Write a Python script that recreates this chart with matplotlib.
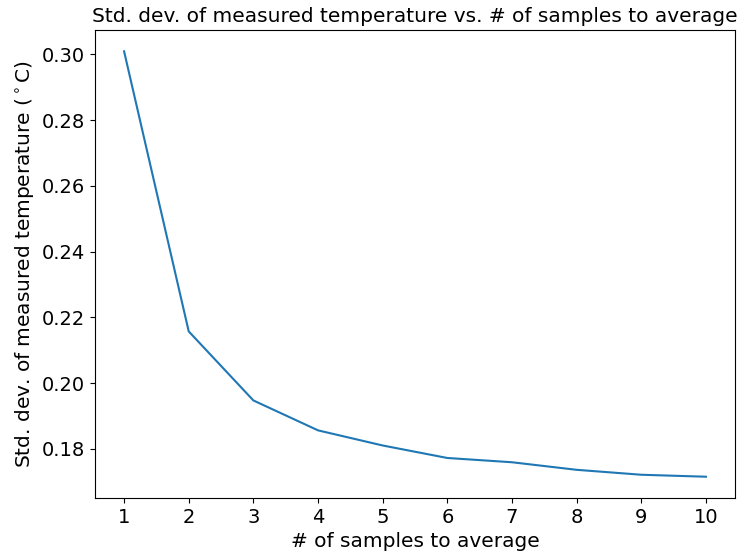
import numpy as np
import matplotlib.pyplot as plt

n_samples = [1, 2, 3, 4, 5, 6, 7, 8, 9, 10]
std_dev = [0.3009, 0.2157, 0.1947, 0.1856, 0.1810, 0.1772, 0.1759, 0.1736, 0.1721, 0.1715]

fig = plt.figure(figsize=(7.38, 5.54), dpi=100)
ax = fig.add_axes([0.1287, 0.1011, 0.8673, 0.8447])

ax.plot(n_samples, std_dev, color='#1f77b4', lw=1.5)
ax.set_xticks(n_samples)
ax.tick_params(labelsize=14)
ax.set_xlabel("# of samples to average", fontsize=14.5)
ax.set_ylabel("Std. dev. of measured temperature ($^\\circ$C)", fontsize=14.5)
ax.set_title("Std. dev. of measured temperature vs. # of samples to average", fontsize=14.5)

fig.savefig("out.png", dpi=100)
